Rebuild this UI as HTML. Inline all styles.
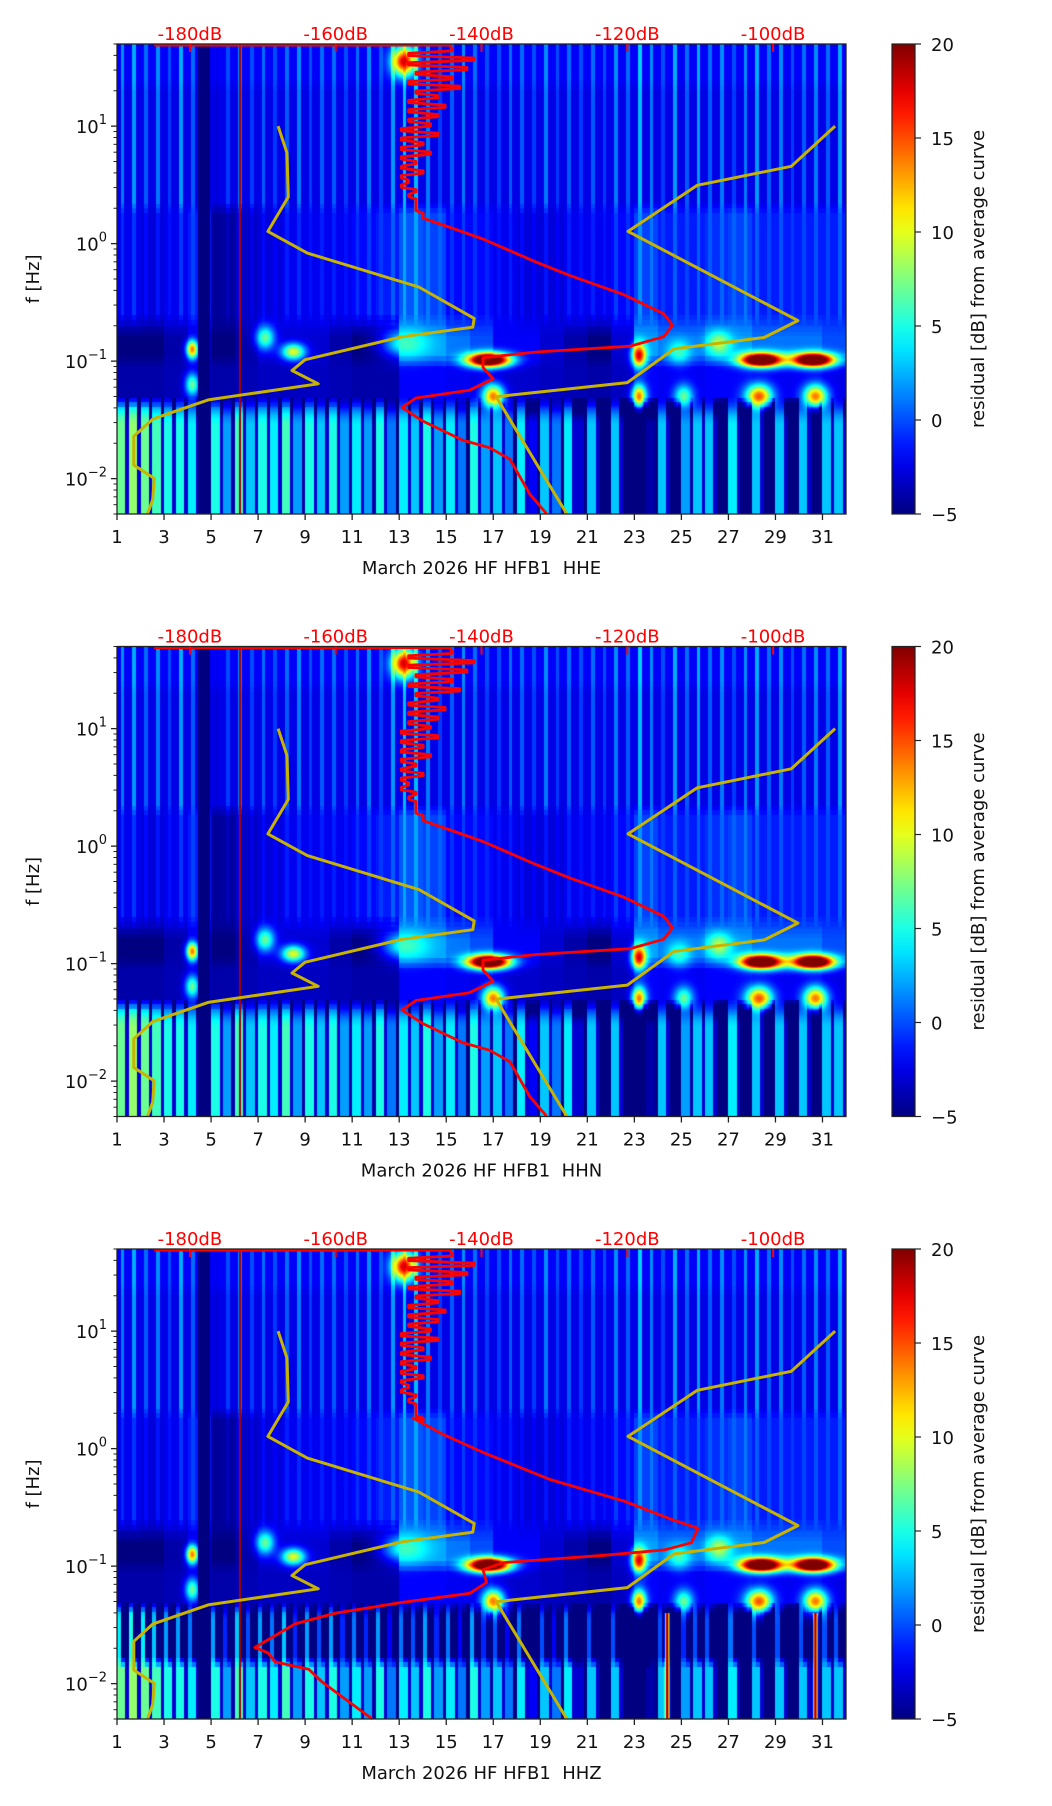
<!DOCTYPE html>
<html><head><meta charset="utf-8">
<style>
html,body{margin:0;padding:0;background:#fff;}
#root{position:relative;width:1052px;height:1806px;overflow:hidden;background:#fff;font-family:"DejaVu Sans","Liberation Sans",sans-serif;}
canvas{position:absolute;}
svg{position:absolute;left:0;top:0;}
</style></head>
<body>
<div id="root">
<canvas id="c0" width="729" height="470" style="left:117px;top:44px"></canvas>
<canvas id="c1" width="729" height="470" style="left:117px;top:646px"></canvas>
<canvas id="c2" width="729" height="470" style="left:117px;top:1249px"></canvas>
<svg id="ov" width="1052" height="1806"></svg>
</div>
<script>
// ---------- data ----------
const channelNames = ["HHE","HHN","HHZ"];
const dayTicks = [1,3,5,7,9,11,13,15,17,19,21,23,25,27,29,31];
const dbTicks = [-180,-160,-140,-120,-100];
const freqDecades = [1,0,-1,-2];
const cbarTicks = [-5,0,5,10,15,20];
// high-frequency streak level per half day (day 1.0 .. 31.5)
const hiStreaks = [3,4,2,3,1,4,2,-1,-2,1,3,1,2,1,2,3,1,2,2,1,2,3,1,4,5,5,3,1,2,3,2,1,1,2,2,1,3,1,2,1,2,1,3,2,5,3,1,4,2,4,2,3,1,3,4,2,3,1,2,3,2,4];
// mid band (0.2-2 Hz) level per day
const midDay = [-1,-1.5,-1,0,-3,-2,-1.5,-1,-1,-1,-0.5,0,1.5,1,-0.5,-0.5,-1,-1.5,-1.5,-1,-1,-0.5,1,0,0,0.5,1,0,0,0,0];
// microseism gap band (0.1-0.2 Hz) level per day
const darkDay = [-5,-5,-4,-3,-5,-4,-3,-3,-3,-4,-5,-5,2,2,1,0,-2,-2,-3,-4,-5,-3,2,1,1,2,2,1,1,1,0];
// low band (<0.045 Hz) stripes per half day
const lowStripes = [7,8,7,6,5,5,4,-5,5,2,6,3,5,4,6,2,5,3,5,2,4,2,5,1,4,3,5,2,4,1,5,2,3,1,4,-2,3,1,4,-3,3,-5,3,-5,-5,-4,3,-5,2,3,3,-5,4,-5,3,-5,3,-5,3,-5,3,3];
// blobs: day, log10 f, peak dB, half-width days, half-height decades
const blobDay  = [16.8,28.4,30.6,23.2,4.2,8.5,7.3,13.3,17.0,28.3,30.7,25.1,23.2,4.2,13.2,26.6,24.9];
const blobLogF = [-0.99,-0.99,-0.99,-0.95,-0.9,-0.92,-0.8,-0.85,-1.3,-1.3,-1.3,-1.3,-1.3,-1.2,1.55,-0.85,-0.92];
const blobPeak = [30,30,30,18,14,10,7,6,14,15,14,7,14,7,18,9,6];
const blobW    = [0.9,0.9,0.9,0.3,0.25,0.5,0.4,1.0,0.45,0.55,0.5,0.4,0.3,0.3,0.5,0.5,0.5];
const blobH    = [0.06,0.06,0.06,0.1,0.08,0.07,0.1,0.12,0.1,0.1,0.1,0.1,0.1,0.1,0.12,0.1,0.1];
// extra features for HHZ: narrow vertical hot lines in low band
const hhzLineDay = [24.4,30.7];
// noise models (dB vs log10 f)
const nlnmDb = [-167.9,-166.7,-166.5,-169.3,-163.9,-148.6,-141.0,-141.2,-150.9,-164.2,-166.0,-162.4,-177.5,-185.1,-187.7,-187.7,-184.9,-185.1,-185.8];
const nlnmLogF = [1.0,0.773,0.398,0.104,-0.081,-0.369,-0.636,-0.711,-0.793,-0.988,-1.08,-1.193,-1.33,-1.493,-1.64,-1.884,-1.998,-2.177,-2.3];
const nhnmDb = [-91.5,-97.5,-110.4,-119.9,-96.6,-101.2,-113.6,-120.0,-138.0,-128.3];
const nhnmLogF = [1.0,0.658,0.496,0.104,-0.655,-0.798,-0.896,-1.183,-1.303,-2.3];
// average PSD curve: high-frequency jagged part (log f from 1.66 step -0.04)
const redJagDb = [-144,-150,-141,-150,-142,-149,-144,-150,-143,-149,-146,-150,-145,-150,-146,-150,-147,-151,-146,-151,-148,-151,-147,-151,-149,-151,-148,-151,-150,-151,-149,-150,-149,-149,-149,-148];
const redLowDb = [-148.1,-143.5,-139.8,-132.5,-127.9,-120.5,-115.0,-113.8,-115.0,-119.6,-132.5,-139.8,-139.8,-138.4,-141.7,-149.0,-150.9,-148.1,-142.6,-138.9,-136.1,-133.4,-131.1];
const redLowLogF = [0.219,0.12,0.039,-0.157,-0.27,-0.434,-0.597,-0.694,-0.792,-0.873,-0.922,-0.971,-1.053,-1.151,-1.248,-1.314,-1.395,-1.509,-1.672,-1.737,-1.835,-2.129,-2.297];
const redLowDbZ = [-149.4,-145.3,-139.8,-130.6,-120.4,-114.0,-110.3,-111.2,-114.9,-123.2,-137.0,-139.8,-139.3,-141.6,-150.8,-160.0,-165.6,-171.1,-169.3,-168.3,-163.7,-161.9,-155.0];
const redLowLogFZ = [0.261,0.122,-0.032,-0.263,-0.447,-0.601,-0.678,-0.801,-0.862,-0.908,-0.970,-1.031,-1.139,-1.231,-1.308,-1.400,-1.492,-1.692,-1.738,-1.815,-1.877,-1.984,-2.3];
const redTopDb = [-184.9,-144.4];

// ---------- geometry ----------
const PL=117, PW=729, PH=470, TOPS=[44,646.5,1249];
const DAY0=1, DAY1=32, LF0=Math.log10(0.005), LF1=Math.log10(50);
const DB0=-190, DB1=-90;
const xDay = d => (d-DAY0)/(DAY1-DAY0)*PW;
const yLog = (lf) => (LF1-lf)/(LF1-LF0)*PH;
const xDb = db => (db-DB0)/(DB1-DB0)*PW;

function jet(v){
  let t=(v+5)/25; t=Math.max(0,Math.min(1,t));
  const c=x=>Math.max(0,Math.min(1,x));
  return [c(1.5-Math.abs(4*t-3))*255,c(1.5-Math.abs(4*t-2))*255,c(1.5-Math.abs(4*t-1))*255];
}
function bandVal(day, lf, p){
  const hi = Math.min(61,Math.max(0,Math.floor((day-1)*2)));
  const di = Math.min(30,Math.max(0,Math.floor(day-1)));
  const frac = (day-1)*2 - Math.floor((day-1)*2);
  const streak = (frac>0.3 && frac<0.62) ? hiStreaks[hi] : -1.5;
  if(lf>0.3) return -1.3 + streak*0.8 + (lf>1.35?0.5:0);
  if(lf>-0.65) return -0.8 + midDay[di] + streak*0.3;
  if(lf>-0.75) return (midDay[di]+darkDay[di])/2 - 0.5;
  if(lf>-1.0) return darkDay[di];
  if(lf>-1.35) return -2.5 + darkDay[di]*0.3;
  const s = lowStripes[hi];
  let v = frac<0.72 ? s : Math.min(s-6,-3);
  if(lf>-1.5) v = v - (lf+1.5)*35;
  if(p===2 && lf>-1.82) v = Math.min(v, frac<0.35? s-3 : -5);
  return v;
}
function value(day, lf, p){
  let v = (bandVal(day,lf-0.04,p)+bandVal(day,lf,p)+bandVal(day,lf+0.04,p))/3;
  for(let k=0;k<blobDay.length;k++){
    const dx=(day-blobDay[k])/blobW[k], dy=(lf-blobLogF[k])/blobH[k];
    const e=dx*dx+dy*dy; if(e<6){ const g=Math.exp(-e); v = v + (blobPeak[k]-v)*g; }
  }
  if(p===2 && lf<-1.4){
    for(const d of hhzLineDay){ const dx=(day-d)/0.08; if(Math.abs(dx)<3){ const g=Math.exp(-dx*dx); v=v+(22-v)*g; } }
  }
  if(day>4.45 && day<4.95) v=-5;
  if(Math.abs(day-6.23)<0.03) v=19;
  return Math.max(-5,Math.min(20,v));
}
for(let p=0;p<3;p++){
  const cv=document.getElementById('c'+p), ctx=cv.getContext('2d');
  const img=ctx.createImageData(PW,PH);
  for(let y=0;y<PH;y++){
    const lf = LF1 - (y+0.5)/PH*(LF1-LF0);
    for(let x=0;x<PW;x++){
      const day = DAY0 + (x+0.5)/PW*(DAY1-DAY0);
      const c=jet(value(day,lf,p)); const i=(y*PW+x)*4;
      img.data[i]=c[0];img.data[i+1]=c[1];img.data[i+2]=c[2];img.data[i+3]=255;
    }
  }
  ctx.putImageData(img,0,0);
}

// ---------- overlay svg ----------
const NS="http://www.w3.org/2000/svg";
const svg=document.getElementById('ov');
function mk(tag,attrs,parent){const e=document.createElementNS(NS,tag);for(const k in attrs)e.setAttribute(k,attrs[k]);(parent||svg).appendChild(e);return e;}
const defs=mk('defs',{});
const lg=mk('linearGradient',{id:'jetg',x1:0,y1:1,x2:0,y2:0},defs);
for(let i=0;i<=20;i++){const c=jet(-5+25*i/20);mk('stop',{offset:(i/20),'stop-color':`rgb(${c.map(Math.round).join(',')})`},lg);}

for(let p=0;p<3;p++){
  const T=TOPS[p];
  const g=mk('g',{transform:`translate(${PL},${T})`});
  
  
  const line=(pts)=>pts.map(q=>q[0].toFixed(1)+','+q[1].toFixed(1)).join(' ');
  const nl=mk('polyline',{points:line(nlnmDb.map((d,i)=>[xDb(d),yLog(nlnmLogF[i])])),fill:'none',stroke:'#c8b400','stroke-width':3,'stroke-linejoin':'round'},g);
  
  
  const nh=mk('polyline',{points:line(nhnmDb.map((d,i)=>[xDb(d),yLog(nhnmLogF[i])])),fill:'none',stroke:'#c8b400','stroke-width':3,'stroke-linejoin':'round'},g);
  
  
  const pts=[[xDb(redTopDb[0]),yLog(1.69)],[xDb(redTopDb[1]),yLog(1.69)]];
  redJagDb.forEach((d,i)=>{const lf=1.66-0.04*i; pts.push([xDb(d),yLog(lf)]); pts.push([xDb(d),yLog(lf-0.02)]);});
  const lowDb = p===2?redLowDbZ:redLowDb, lowLf = p===2?redLowLogFZ:redLowLogF;
  lowDb.forEach((d,i)=>pts.push([xDb(d),yLog(lowLf[i])]));
  const rc=mk('polyline',{points:line(pts),fill:'none',stroke:'#ff0000','stroke-width':2.8,'stroke-linejoin':'round'},g);
  
  
  const fr=mk('rect',{x:0,y:0,width:PW,height:PH,fill:'none',stroke:'#222','stroke-width':1.3},g);
  
  
  dayTicks.forEach(d=>{
    const x=xDay(d);
    mk('line',{x1:x,x2:x,y1:PH,y2:PH+6,stroke:'#222','stroke-width':1.3},g);
    const t=mk('text',{x:x,y:PH+29,'text-anchor':'middle','font-size':18,fill:'#111'},g);
    t.textContent=d;
    
    
  });
  dbTicks.forEach(d=>{
    const x=xDb(d);
    mk('line',{x1:x,x2:x,y1:0,y2:8,stroke:'#ff0000','stroke-width':2},g);
    const t=mk('text',{x:x,y:-4,'text-anchor':'middle','font-size':18,fill:'#ff0000'},g);
    t.textContent=d+'dB';
    
    
  });
  freqDecades.forEach(e=>{
    const y=yLog(e);
    mk('line',{x1:-6,x2:0,y1:y,y2:y,stroke:'#222','stroke-width':1.3},g);
    const t=mk('text',{x:-10,y:y+7,'text-anchor':'end','font-size':18,fill:'#111'},g);
    t.textContent='10';
    const s=mk('tspan',{dy:-9,'font-size':13},t); s.textContent=(e<0?'\u2212'+(-e):''+e);
    
    
  });
  for(let e=-3;e<=1;e++)for(let m=2;m<=9;m++){
    const lf=e+Math.log10(m); if(lf<LF0||lf>LF1)continue;
    const y=yLog(lf); mk('line',{x1:-3.5,x2:0,y1:y,y2:y,stroke:'#222','stroke-width':1},g);
  }
  const yl=mk('text',{x:0,y:0,transform:`translate(-78,${PH/2}) rotate(-90)`,'text-anchor':'middle','font-size':18,fill:'#111'},g);
  yl.textContent='f [Hz]';
  
  
  const xl=mk('text',{x:PW/2,y:PH+60,'text-anchor':'middle','font-size':18,fill:'#111'},g);
  xl.textContent='March 2026 HF HFB1\u00a0 '+channelNames[p];
  
  
  const cb=mk('g',{transform:`translate(892,${T})`});
  
  
  mk('rect',{x:0,y:0,width:23,height:PH,fill:'url(#jetg)',stroke:'#222','stroke-width':1.2},cb);
  cbarTicks.forEach(v=>{
    const y=PH-(v+5)/25*PH;
    mk('line',{x1:23,x2:29,y1:y,y2:y,stroke:'#222','stroke-width':1.2},cb);
    const t=mk('text',{x:39,y:y+7,'font-size':18,fill:'#111'},cb);
    t.textContent=(v<0?'\u2212'+(-v):''+v);
    
    
  });
  const cl=mk('text',{x:0,y:0,transform:`translate(92,${PH/2}) rotate(-90)`,'text-anchor':'middle','font-size':18,fill:'#111'},cb);
  cl.textContent='residual [dB] from average curve';
  
  
}
</script>
</body></html>
